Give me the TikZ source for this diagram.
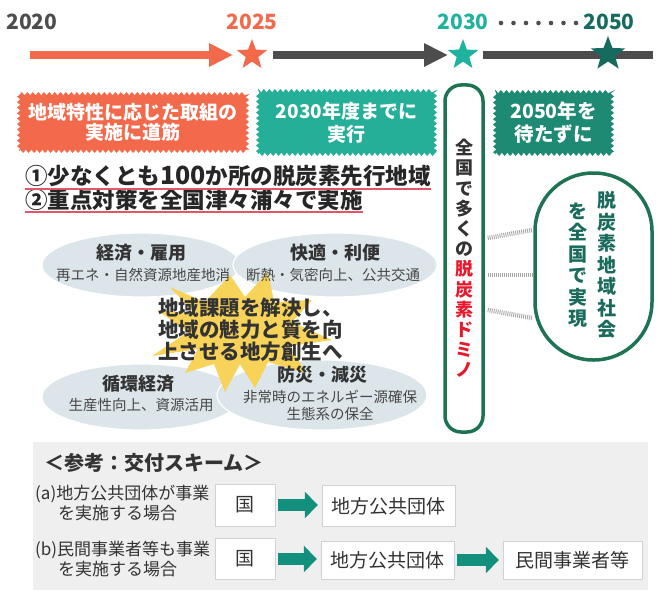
\documentclass[tikz,border=0pt]{standalone}
\usepackage{fontspec}
\setmainfont{Noto Sans CJK JP}
\usetikzlibrary{shapes.geometric,arrows.meta,decorations.pathmorphing,backgrounds,calc}
\definecolor{orng}{HTML}{F26A4B}
\definecolor{dgray}{HTML}{4D4D4D}
\definecolor{tealA}{HTML}{1FB39E}
\definecolor{tealB}{HTML}{146B5E}
\definecolor{boxteal}{HTML}{25AE98}
\definecolor{boxfifty}{HTML}{1E8A73}
\definecolor{dgreen}{HTML}{1E7352}
\definecolor{domred}{HTML}{E8192C}
\definecolor{ellfill}{HTML}{DCE5EA}
\definecolor{burst}{HTML}{F7D35A}
\definecolor{panelg}{HTML}{EFEFEF}
\definecolor{arrteal}{HTML}{13907D}
\definecolor{txt}{HTML}{333333}
\definecolor{ovaltxt}{HTML}{1B6B5C}
\definecolor{ulred}{HTML}{E0566A}
\newcommand{\rc}[1]{\textcolor{domred}{#1}}
\newcommand{\fs}[2]{\fontsize{#1}{#2}\selectfont}
\begin{document}
\begin{tikzpicture}[x=1pt,y=-1pt,
  yearlbl/.style={font=\bfseries\fs{21}{21}, inner sep=0},
  starnode/.style={star, star points=5, star point ratio=2.4, inner sep=0, minimum size=#1},
  tline/.style={line width=8pt, draw=#1},
  tarrow/.style={line width=8pt, draw=#1, -{Triangle[length=24pt,width=22pt]}},
  jag/.style={fill=#1, draw=#1, decorate, decoration={zigzag, segment length=5.5pt, amplitude=1.6pt},
    text=white, align=center, inner sep=0, font=\bfseries\fs{19}{21}},
  ell/.style={ellipse, fill=ellfill, draw=white, line width=1.2pt, inner sep=0},
  elltitle/.style={font=\bfseries\fs{18}{18}, text=txt, inner sep=0},
  ellsub/.style={font=\fs{14.5}{17}, text=txt!90, inner sep=0, align=center},
  hatch/.style={draw=gray!70, line width=4.5pt, dash pattern=on 0.9pt off 1.1pt},
  sbox/.style={draw=gray!35, fill=white, font=\fs{19}{19}, text=txt, inner sep=0},
  blockarr/.style={draw=arrteal, line width=12pt, -{Triangle[length=13pt,width=26pt]}, shorten <=3pt, shorten >=4pt},
  vtext/.style={align=center, inner sep=0, font=\bfseries\fs{18}{20.2}}
]
\useasboundingbox (0,0) rectangle (661,591);

% ---------- timeline ----------
\node[yearlbl, text=dgray] (y2020) at (32,22) {2020};
\node[yearlbl, text=orng] (y2025) at (252,22) {2025};
\node[yearlbl, text=tealA] (y2030) at (463,22) {2030};
\node[yearlbl, text=tealB] (y2050) at (609,22) {2050};
\foreach \i in {0,...,6} \fill[dgray] (501+12.5*\i,23) circle (2.3pt);

\coordinate (t0) at (30,55);
\coordinate (tend) at (653,55);
\node[starnode=32, fill=orng] (s2025) at (252,55) {};
\node[starnode=32, fill=tealA] (s2030) at (463,55) {};
\node[starnode=36, fill=tealB] (s2050) at (608,54) {};
\begin{scope}[on background layer]
\draw[tarrow=orng, shorten >=19pt] (t0) -- (s2025.center);
\draw[tarrow=dgray, shorten <=21pt, shorten >=15pt] (s2025.center) -- (s2030.center);
\draw[tline=dgray, shorten <=20pt] (s2030.center) -- (tend);
\end{scope}

% ---------- jagged boxes ----------
\node[jag=orng, minimum width=228, minimum height=57, font=\bfseries\fs{19}{19.5}] (bx1) at (133,122.5)
  {地域特性に応じた取組の\\実施に道筋};
\node[jag=boxteal, minimum width=177, minimum height=63, font=\bfseries\fs{19}{23}] (bx2) at (346.5,122.5)
  {2030年度までに\\実行};
\node[jag=boxfifty, minimum width=117, minimum height=62, font=\bfseries\fs{19.5}{23}] (bx3) at (553.5,123)
  {2050年を\\待たずに};

% ---------- headline lines ----------
\node[anchor=west, inner sep=0, font=\bfseries\fs{22.5}{22.5}, text=black!85] (l1) at (25,176)
  {①少なくとも{\fs{25}{25}100}か所の脱炭素先行地域};
\node[anchor=west, inner sep=0, font=\bfseries\fs{22.5}{22.5}, text=black!85] (l2) at (25,199.5)
  {②重点対策を全国津々浦々で実施};
\draw[ulred, line width=1.3pt] ([yshift=-2pt]l1.south west) -- ([yshift=-2pt]l1.south east);
\draw[ulred, line width=1.3pt] ([yshift=-1.5pt]l2.south west) -- ([yshift=-1.5pt]l2.south east);

% ---------- ellipses ----------
\node[ell, minimum width=198, minimum height=64] (e1) at (141,265) {};
\node[ell, minimum width=204, minimum height=64] (e2) at (335,265) {};
\node[ell, minimum width=198, minimum height=66] (e3) at (141,397) {};
\node[ell, minimum width=210, minimum height=70] (e4) at (322,395) {};

% starburst
\fill[burst] (170,287) -- (205,302) -- (230,275) -- (245,297) -- (268,272) -- (274,302)
  -- (312,300) -- (292,322) -- (332,340) -- (290,346) -- (306,373) -- (268,362)
  -- (255,388) -- (240,364) -- (225,392) -- (214,364) -- (185,373) -- (198,349)
  -- (152,356) -- (188,332) -- (157,310) -- (195,314) -- cycle;

\node[elltitle] (e1t) at (141,253) {経済・雇用};
\node[ellsub] (e1s) at (143,275) {再エネ・自然資源地産地消};
\node[elltitle] (e2t) at (335,253) {快適・利便};
\node[ellsub] (e2s) at (333,275) {断熱・気密向上、公共交通};
\node[elltitle] (e3t) at (138,384) {循環経済};
\node[ellsub] (e3s) at (141,405) {生産性向上、資源活用};
\node[elltitle] (e4t) at (322,375) {防災・減災};
\node[ellsub] (e4s) at (330,405) {非常時のエネルギー源確保\\生態系の保全};

\node[anchor=west, align=left, inner sep=0, font=\bfseries\fs{20.5}{22}, text=txt] (ctr) at (158,330)
  {地域課題を解決し、\\地域の魅力と質を向\\上させる地方創生へ};

% ---------- domino and goal ----------
\node[draw=dgreen, line width=3.5pt, rounded corners=16pt, minimum width=38, minimum height=347,
  vtext, text=txt] (domino) at (464,258.5)
  {全\\国\\で\\多\\く\\の\\\rc{脱}\\\rc{炭}\\\rc{素}\\\rc{ド}\\\rc{ミ}\\\rc{ノ}};
\node[draw=dgreen, line width=3.5pt, rounded corners=58pt, minimum width=117, minimum height=187] (oval) at (593.5,266.5) {};
\node[vtext, text=ovaltxt, font=\bfseries\fs{19}{21.5}] (ov1) at (607,265) {脱\\炭\\素\\地\\域\\社\\会};
\node[vtext, text=ovaltxt, font=\bfseries\fs{19}{21.5}] (ov2) at (578,265) {を\\全\\国\\で\\実\\現};

\draw[hatch] ($(domino.east)+(3,-20.5)$) -- ($(oval.west)+(-1,-36.5)$);
\draw[hatch] ($(domino.east)+(3,16.5)$) -- ($(oval.west)+(-1,8.5)$);
\draw[hatch] ($(domino.east)+(3,51.5)$) -- ($(oval.west)+(-1,51.5)$);

% ---------- bottom panel ----------
\node[fill=panelg, inner sep=0, minimum width=615, minimum height=148] (panel) at (340.5,516) {};
\node[anchor=west, inner sep=0, font=\bfseries\fs{20}{20}, text=txt] (ptitle) at (44,463) {＜参考：交付スキーム＞};
\node[anchor=west, align=left, inner sep=0, font=\fs{17}{20}, text=txt] (ra) at (35,503)
  {(a)地方公共団体が事業\\\hspace*{23pt}を実施する場合};
\node[anchor=west, align=left, inner sep=0, font=\fs{17}{20}, text=txt] (rb) at (35,559)
  {(b)民間事業者等も事業\\\hspace*{23pt}を実施する場合};

\node[sbox, minimum width=60, minimum height=42] (ka) at (245,505) {国};
\node[sbox, minimum width=133, minimum height=41] (ja) at (388.5,506) {地方公共団体};
\node[sbox, minimum width=60, minimum height=41] (kb) at (245,559) {国};
\node[sbox, minimum width=133, minimum height=38] (jb) at (387.5,560) {地方公共団体};
\node[sbox, minimum width=139, minimum height=38] (mb) at (572.5,560) {民間事業者等};

\draw[blockarr] (ka.east) -- (ka.east -| ja.west);
\draw[blockarr] (kb.east) -- (kb.east -| jb.west);
\draw[blockarr] (jb.east) -- (jb.east -| mb.west);
\end{tikzpicture}
\end{document}
